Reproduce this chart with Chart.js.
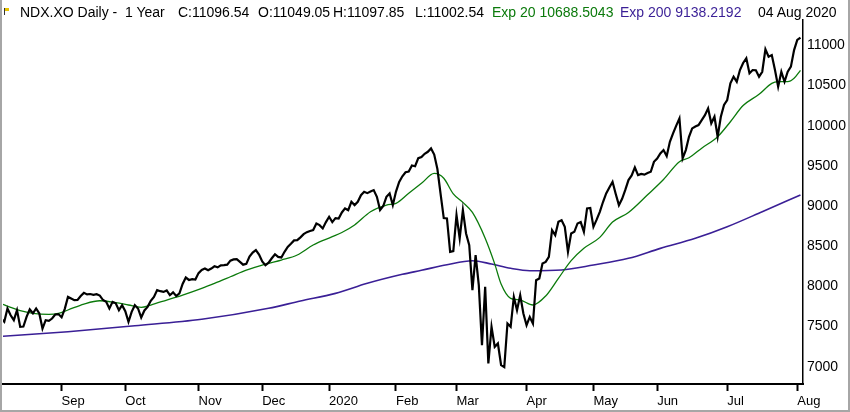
<!DOCTYPE html>
<html>
<head>
<meta charset="utf-8">
<title>NDX.XO Daily - 1 Year</title>
<script src="https://cdn.jsdelivr.net/npm/chart.js@4.4.1/dist/chart.umd.min.js"></script>
<style>
  html, body { margin: 0; padding: 0; background: #fff; }
  #wrap { position: relative; width: 850px; height: 412px; overflow: hidden; }
  #chart { position: absolute; left: 0; top: 0; }
  .hdr { position: absolute; top: 5px; font: 14px/14px "Liberation Sans", Arial, sans-serif; color: #000; white-space: pre; }
  .green { color: #0b7a0b; }
  .purple { color: #3a1f96; }
  #flag { position: absolute; left: 4px; top: 8px; width: 1px; height: 7px; background: #333; }
  #flag::after { content: ""; position: absolute; left: 1px; top: 0; width: 4px; height: 3px; background: #e6c200; }
  #frame { position: absolute; left: 0; top: 0; width: 850px; height: 412px; box-sizing: border-box;
           border-left: 2px solid #a6a6a6; border-right: 2px solid #a6a6a6; border-bottom: 2px solid #a6a6a6; pointer-events: none; }
</style>
</head>
<body>
<div id="wrap">
  <canvas id="chart" width="850" height="412"></canvas>
  <span id="flag"></span>
  <span class="hdr" style="left:20px">NDX.XO Daily -  1 Year</span>
  <span class="hdr" style="left:178px">C:11096.54</span>
  <span class="hdr" style="left:258px">O:11049.05</span>
  <span class="hdr" style="left:333px">H:11097.85</span>
  <span class="hdr" style="left:415px">L:11002.54</span>
  <span class="hdr green" style="left:492px">Exp 20 10688.5043</span>
  <span class="hdr purple" style="left:620px">Exp 200 9138.2192</span>
  <span class="hdr" style="left:758px">04 Aug 2020</span>
  <div id="frame"></div>
</div>
<script>
// daily closes, 05 Aug 2019 .. 04 Aug 2020 (trading day index = array position)
const closes = [
  7433, 7600, 7560, 7725, 7640, 7579, 7704, 7496, 7500, 7620,
  7713, 7665, 7725, 7662, 7475, 7579, 7570, 7600, 7650, 7655,
  7615, 7720, 7869, 7849, 7828, 7830, 7880, 7919, 7900, 7905,
  7895, 7903, 7885, 7830, 7807, 7725, 7807, 7790, 7704, 7766,
  7690, 7558, 7683, 7766, 7725, 7612, 7700, 7745, 7820, 7869,
  7953, 7940, 7931, 7950, 7890, 7925, 7880, 7912, 8030, 8110,
  8080, 8090, 8085, 8165, 8205, 8222, 8200, 8222, 8250, 8237,
  8262, 8264, 8270, 8320, 8335, 8339, 8305, 8270, 8280, 8370,
  8420, 8451, 8395, 8310, 8264, 8295, 8350, 8400, 8367, 8360,
  8430, 8490, 8530, 8572, 8575, 8610, 8650, 8675, 8690, 8702,
  8783, 8762, 8721, 8800, 8866, 8800, 8850, 8845, 8920, 8970,
  8949, 9052, 9011, 9052, 9135, 9177, 9160, 9180, 9198, 9115,
  8949, 9000, 9115, 9157, 9011, 9180, 9300, 9370, 9420, 9430,
  9505, 9495, 9595, 9610, 9650, 9675, 9716, 9640, 9460, 9150,
  8850, 8845, 8430, 8440, 8887, 8597, 8949, 8659, 8513, 7953,
  8389, 8015, 7268, 7994, 7040, 7496, 7247, 7289, 7019, 6994,
  7538, 7496, 7869, 7704, 7890, 7662, 7517, 7620, 7538, 8077,
  8098, 8285, 8305, 8367, 8700, 8638, 8803, 8824, 8741, 8430,
  8659, 8679, 8783, 8800, 8679, 8970, 8975, 8741, 8830, 8928,
  9050, 9157, 9230, 9301, 9150, 9011, 9090, 9200, 9323, 9380,
  9480, 9385, 9400, 9390, 9410, 9426, 9550, 9590, 9654, 9696,
  9621, 9800, 9903, 10000, 10091, 9593, 9696, 9862, 9966, 9990,
  10007, 10070, 10130, 10215, 10029, 10111, 9862, 10111, 10257, 10319,
  10527, 10609, 10547, 10692, 10780, 10838, 10651, 10692, 10690, 10609,
  10671, 10950, 10858, 10879, 10692, 10485, 10671, 10547, 10671, 10734,
  10941, 11066, 11097
];

// exponential averages at selected trading days
const ema20Days = [1, 4, 7, 11, 16, 19, 22, 27, 32, 37, 41, 45, 48, 53, 58, 64, 68, 73, 78, 84,
  89, 94, 99, 105, 108, 112, 117, 122, 125, 129, 133, 137, 140, 143, 146, 149, 153, 156, 158, 161,
  164, 168, 172, 176, 180, 184, 189, 193, 198, 204, 209, 214, 217, 221, 226, 230, 234, 239, 243, 245,
  248, 250, 252];
const ema20Values = [7785, 7739, 7697, 7664, 7652, 7664, 7706, 7780, 7821, 7797, 7768, 7739, 7768, 7830, 7892, 7976, 8038, 8120, 8203, 8278,
  8328, 8390, 8515, 8618, 8670, 8764, 8929, 9012, 9033, 9158, 9282, 9405, 9345, 9150, 9045, 8920, 8600, 8280, 8030, 7851,
  7830, 7768, 7880, 8100, 8320, 8474, 8610, 8800, 8920, 9140, 9330, 9551, 9600, 9720, 9862, 10049, 10250, 10390, 10527, 10547,
  10547, 10589, 10688];

const ema200Days = [0, 22, 43, 64, 85, 95, 106, 116, 127, 133, 141, 149, 155, 161, 167, 177, 187, 198, 208, 219, 229, 240, 252];
const ema200Values = [7375, 7436, 7510, 7590, 7727, 7818, 7913, 8038, 8150, 8200, 8270, 8319, 8278, 8225, 8195, 8204, 8266, 8349, 8473, 8598, 8742, 8929, 9138];

// first trading day of each month and its label
const monthStartDays = [20, 40, 63, 83, 104, 125, 144, 166, 187, 207, 229, 251];
const monthLabels = ['Sep', 'Oct', 'Nov', 'Dec', '2020', 'Feb', 'Mar', 'Apr', 'May', 'Jun', 'Jul', 'Aug'];

const priceTicks = [7000, 7500, 8000, 8500, 9000, 9500, 10000, 10500, 11000];

const closeData = closes.map((v, i) => ({ x: i, y: v }));
const ema20Data = ema20Days.map((d, i) => ({ x: d, y: ema20Values[i] }));
const ema200Data = ema200Days.map((d, i) => ({ x: d, y: ema200Values[i] }));

const ctx = document.getElementById('chart').getContext('2d');

new Chart(ctx, {
  type: 'line',
  data: {
    datasets: [
      {
        label: 'Close',
        data: closeData,
        borderColor: '#000000',
        borderWidth: 2.2,
        pointRadius: 0,
        tension: 0
      },
      {
        label: 'Exp 20',
        data: ema20Data,
        borderColor: '#0b7a0b',
        borderWidth: 1.3,
        pointRadius: 0,
        cubicInterpolationMode: 'monotone'
      },
      {
        label: 'Exp 200',
        data: ema200Data,
        borderColor: '#3a1f96',
        borderWidth: 1.6,
        pointRadius: 0,
        cubicInterpolationMode: 'monotone'
      }
    ]
  },
  options: {
    responsive: false,
    animation: false,
    events: [],
    layout: { padding: { left: 3, top: 20, right: 0, bottom: 0 } },
    plugins: {
      legend: { display: false },
      tooltip: { enabled: false },
      title: { display: false }
    },
    scales: {
      x: {
        type: 'linear',
        min: 1.6,
        max: 252.8,
        afterBuildTicks: (axis) => {
          axis.ticks = monthStartDays.map(v => ({ value: v }));
        },
        afterFit: (axis) => { axis.height = 28; },
        grid: {
          drawOnChartArea: false,
          drawTicks: true,
          tickLength: 7,
          tickWidth: 2,
          tickColor: '#000'
        },
        border: { display: true, color: '#000', width: 2 },
        ticks: {
          autoSkip: false,
          maxRotation: 0,
          align: 'start',
          padding: 3,
          color: '#000',
          font: { family: '"Liberation Sans", Arial, sans-serif', size: 13 },
          callback: (value) => monthLabels[monthStartDays.indexOf(value)]
        }
      },
      y: {
        position: 'right',
        min: 6785,
        max: 11315,
        afterBuildTicks: (axis) => {
          axis.ticks = priceTicks.map(v => ({ value: v }));
        },
        afterFit: (axis) => { axis.width = 47; },
        grid: { drawOnChartArea: false, drawTicks: false },
        border: { display: true, color: '#000', width: 1.5 },
        ticks: {
          padding: 4,
          color: '#000',
          font: { family: '"Liberation Sans", Arial, sans-serif', size: 14 },
          callback: (value) => String(value)
        }
      }
    }
  }
});
</script>
</body>
</html>
